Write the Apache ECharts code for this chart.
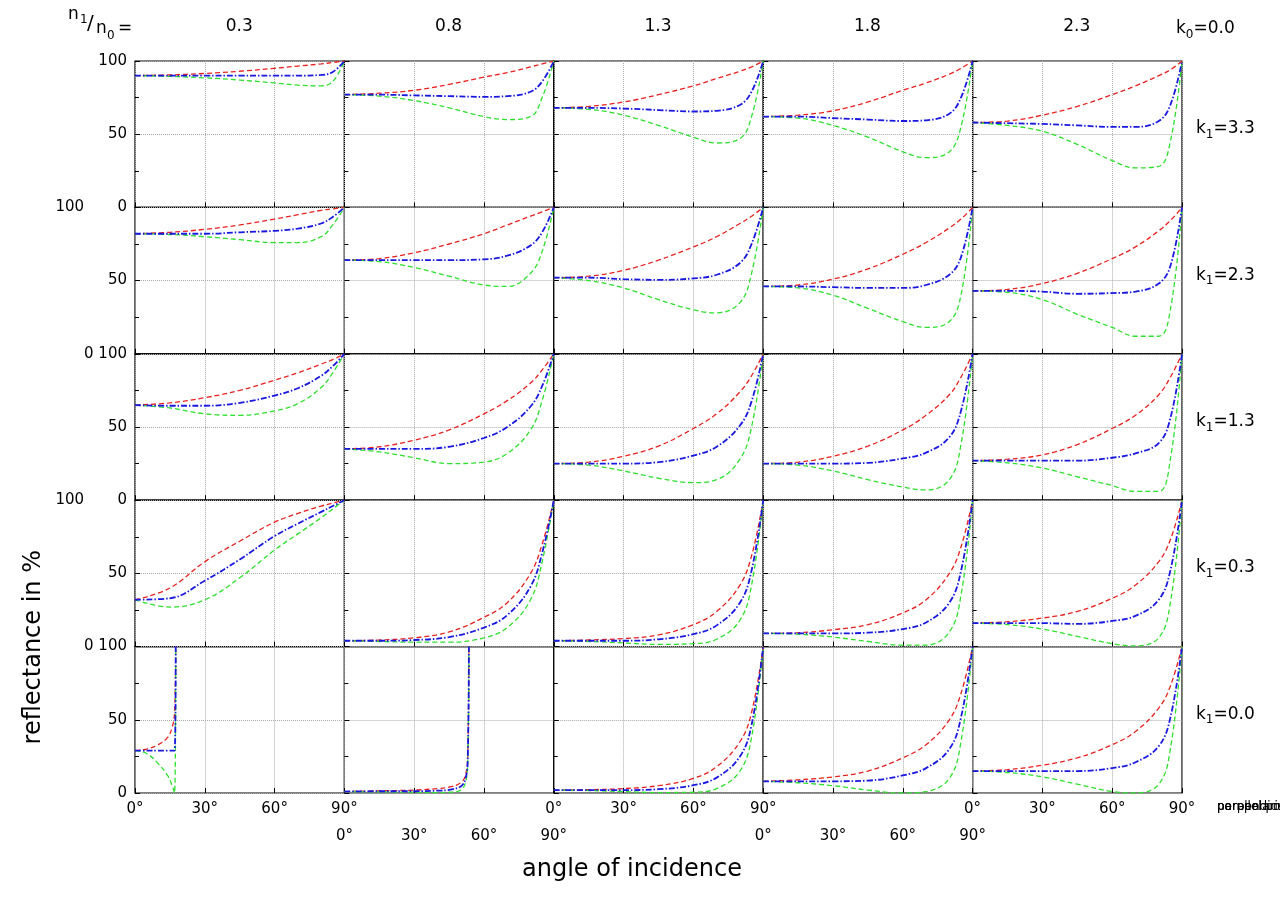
<!DOCTYPE html>
<html>
<head>
<meta charset="utf-8">
<script src="https://cdn.jsdelivr.net/npm/echarts@6/dist/echarts.min.js"></script>
<style>html,body{margin:0;padding:0;background:#fff}#c{width:1280px;height:902px}</style>
</head>
<body>
<div id="c"></div>
<script>
// 列：n1/n0，行：k1
const n_ratio = ['0.3', '0.8', '1.3', '1.8', '2.3'];
const k1_vals = ['3.3', '2.3', '1.3', '0.3', '0.0'];

// 默认入射角采样
const ANG = [0, 15, 30, 45, 60, 70, 80, 85, 90];
// 全反射面板的入射角
const ANG_TIR03 = [0, 5, 10, 14, 16, 17, 17.5];
const ANG_TIR08 = [0, 15, 30, 40, 45, 50, 52, 53, 53.5];

// k1 = 3.3
const perp_k33 = [[90,90.5,91.5,93,95,96.5,98,99,100],[77,78,80,84,89,92,96,98,100],[68,69,72,77,83,88,93,96,100],[62,63,66,72,80,85,91,95,100],[58,59,63,69,77,83,90,94,100]];
const para_k33 = [[90,89.5,88.5,87,85,83.5,83,86,100],[77,76,73,68,62,60,62,75,100],[68,67,63,56,48,44,47,62,100],[62,61,56,48,38,34,38,55,100],[58,56,52,43,32,27,28,45,100]];
const non_k33  = [[90,90,90,90,90,90,90.5,92.5,100],[77,77,76.5,76,75.5,76,79,86,100],[68,68,67.5,66.5,65.5,66,70,79,100],[62,62,61,60,59,59.5,64,75,100],[58,57.5,57,56,55,55,59,70,100]];
// k1 = 2.3
const perp_k23 = [[82,83,85,88,92,95,98,99,100],[64,65,69,75,82,88,94,97,100],[52,53,57,64,73,80,89,94,100],[46,47,51,58,68,76,86,92,100],[43,44,48,55,65,73,84,91,100]];
const para_k23 = [[82,81.5,80,78,76,76,80,88,100],[64,63,59,53,47,46,55,70,100],[52,50,45,37,30,28,35,55,100],[46,45,40,31,22,18,22,40,100],[43,42,37,27,18,12,12,30,100]];
const non_k23  = [[82,82,82,83,84,85.5,89,93.5,100],[64,64,64,64,64.5,67,74,83,100],[52,52,51,50.5,51.5,54,62,75,100],[46,46,45.5,45,45,47,54,66,100],[43,43,42.5,41,41.5,42.5,48,60,100]];
// k1 = 1.3
const perp_k13 = [[65,66.5,70,75,82,87,93,96,100],[35,36.5,41,48,59,68,80,89,100],[25,26,30,37,49,59,74,85,100],[25,26,30,37,48,58,72,84,100],[27,28,31,38,49,58,72,84,100]];
const para_k13 = [[65,63,59,58,61,66,77,87,100],[35,33,29,25,26,32,48,68,100],[25,24,20,15,12,14,28,50,100],[25,24,20,14,9,7,14,38,100],[27,25.5,22,16,10,6,6,28,100]];
const non_k13  = [[65,64.5,64.5,66.5,71.5,76.5,85,91.5,100],[35,35,35,36.5,42.5,50,64,78,100],[25,25,25,26,30.5,36.5,51,67.5,100],[25,25,25,25.5,28.5,32.5,43,61,100],[27,27,27,27,29,32,39,56,100]];
// k1 = 0.3
const perp_k03 = [[32,40,58,72,85,91,96,98,100],[4,4.5,6,10,20,30,50,70,100],[4,4.5,5.5,8,15,24,42,62,100],[9,9.5,11.5,15,23,32,50,68,100],[16,17,19.5,24,33,42,58,73,100]];
const para_k03 = [[32,27,32,47,66,77,88,94,100],[4,3.5,3,3,6,13,32,58,100],[4,3.5,2.5,1.5,2,5,18,42,100],[9,8.5,6.5,3.5,1,1,10,35,100],[16,15,12,7,2,0.5,6,30,100]];
const non_k03  = [[32,33,45,59.5,75.5,84,92,96,100],[4,4,4.5,6.5,13,21.5,41,64,100],[4,4,4,5,8.5,14.5,30,52,100],[9,9,9,9.5,12,16.5,30,51.5,100],[16,16,16,15.5,17.5,21,32,52,100]];
// k1 = 0.0（前两列为全反射）
const perp_k00 = [[29,30,33,38,45,55,100],[1,1.5,2,3,4,7,12,25,100],[2,2.3,3,5,10,18,35,55,100],[8,9,11,15,24,33,50,68,100],[15,16,19,24,33,42,58,73,100]];
const para_k00 = [[29,27,20,12,5,0,100],[1,0.8,0.5,0.3,0.5,2,7,20,100],[2,1.7,1,0.3,0.5,3,15,38,100],[8,7,5,2,0,1,10,35,100],[15,14,11,6,1,0,6,30,100]];
const non_k00  = [[29,29,29,29,29,29,100],[1,1.2,1.2,1.6,2.2,4.5,9.5,22.5,100],[2,2,2,2.6,5.3,10.5,25,46.5,100],[8,8,8,8.5,12,17,30,51.5,100],[15,15,15,15,17,21,32,51.5,100]];

const PERP = [perp_k33, perp_k23, perp_k13, perp_k03, perp_k00];
const PARA = [para_k33, para_k23, para_k13, para_k03, para_k00];
const NON  = [non_k33, non_k23, non_k13, non_k03, non_k00];

const X0 = 135, W = 209.4, Y0 = 61, H = 146.4;
const RED = '#e82020', GREEN = '#2ee02e', BLUE = '#1818e0';
const FONT = 'DejaVu Sans';

const angOf = (r, c) => (r === 4 && c === 0) ? ANG_TIR03 : (r === 4 && c === 1) ? ANG_TIR08 : ANG;
const pair = (a, v) => a.map((x, i) => [x, v[i]]);

const grids = [], xAxes = [], yAxes = [], series = [];
const topLabel = ['100', '100       0', '0 100', '100       0', '0 100'];

for (let r = 0; r < 5; r++) {
    for (let c = 0; c < 5; c++) {
        const i = r * 5 + c;
        grids.push({left: X0 + c * W, top: Y0 + r * H, width: W, height: H,
            show: true, borderColor: '#000', borderWidth: 1.2});
        xAxes.push({type: 'value', gridIndex: i, min: 0, max: 90, interval: 30,
            axisLine: {show: false},
            axisTick: {show: true, inside: true, length: 5, lineStyle: {color: '#000'}},
            splitLine: {show: true, lineStyle: {type: 'dotted', color: '#aaa'}},
            axisLabel: {show: r === 4, formatter: '{value}°', fontFamily: FONT, fontSize: 15,
                color: '#000', margin: c % 2 ? 36 : 9, showMaxLabel: true}});
        yAxes.push({type: 'value', gridIndex: i, min: 0, max: 100, interval: 50,
            axisLine: {show: false},
            axisTick: {show: true, inside: true, length: 5, lineStyle: {color: '#000'}},
            minorTick: {show: true, splitNumber: 2, length: 4, lineStyle: {color: '#000'}},
            splitLine: {show: true, lineStyle: {type: 'dotted', color: '#aaa'}},
            axisLabel: {show: c === 0, fontFamily: FONT, fontSize: 15, color: '#000', margin: 8,
                formatter: v => v === 100 ? topLabel[r] : v === 0 ? (r === 4 ? '0' : '') : String(v)}});
        const a = angOf(r, c);
        const base = {type: 'line', xAxisIndex: i, yAxisIndex: i, symbol: 'none', smooth: 0.4,
            clip: true, silent: true};
        series.push(Object.assign({}, base, {name: 'perpendicular polarised', data: pair(a, PERP[r][c]),
            lineStyle: {color: RED, width: 1.3, type: [5, 3]}, itemStyle: {color: RED}}));
        series.push(Object.assign({}, base, {name: 'parallel polarised', data: pair(a, PARA[r][c]),
            lineStyle: {color: GREEN, width: 1.3, type: [5, 3]}, itemStyle: {color: GREEN}}));
        series.push(Object.assign({}, base, {name: 'non-polarised', data: pair(a, NON[r][c]),
            lineStyle: {color: BLUE, width: 1.8, type: [6, 2, 1.5, 2]}, itemStyle: {color: BLUE}}));
    }
}

const texts = [];
n_ratio.forEach((n, c) => texts.push({type: 'text', left: X0 + c * W + W / 2 - 14, top: 18,
    style: {text: n, font: '17px "DejaVu Sans"', fill: '#000'}}));
k1_vals.forEach((k, r) => texts.push({type: 'text', left: 1196, top: Y0 + r * H + H / 2 - 14,
    style: {text: '{a|k}{s|1}{a|=' + k + '}', rich: {a: {font: '17px "DejaVu Sans"', fill: '#000'},
        s: {font: '12px "DejaVu Sans"', fill: '#000', verticalAlign: 'bottom', padding: [12, 0, 0, 0]}}}}));
texts.push({type: 'text', left: 1176, top: 20, style: {text: '{a|k}{s|0}{a|=0.0}',
    rich: {a: {font: '17px "DejaVu Sans"', fill: '#000'}, s: {font: '12px "DejaVu Sans"', fill: '#000', padding: [12, 0, 0, 0]}}}});
texts.push({type: 'text', left: 68, top: 6, style: {text: 'n', font: '17px "DejaVu Sans"', fill: '#000'}});
texts.push({type: 'text', left: 80, top: 14, style: {text: '1', font: '12px "DejaVu Sans"', fill: '#000'}});
texts.push({type: 'text', left: 87, top: 14, style: {text: '/', font: '20px "DejaVu Sans"', fill: '#000'}});
texts.push({type: 'text', left: 96, top: 20, style: {text: 'n', font: '17px "DejaVu Sans"', fill: '#000'}});
texts.push({type: 'text', left: 107, top: 30, style: {text: '0', font: '12px "DejaVu Sans"', fill: '#000'}});
texts.push({type: 'text', left: 118, top: 20, style: {text: '=', font: '17px "DejaVu Sans"', fill: '#000'}});
texts.push({type: 'text', left: 522, top: 858, style: {text: 'angle of incidence', font: '24px "DejaVu Sans"', fill: '#000'}});
texts.push({type: 'text', left: 22, top: 550, rotation: Math.PI / 2,
    style: {text: 'reflectance in %', font: '24px "DejaVu Sans"', fill: '#000'}});

const chart = echarts.init(document.getElementById('c'));
chart.setOption({
    animation: false,
    grid: grids, xAxis: xAxes, yAxis: yAxes, series,
    legend: {right: 5, top: 838, orient: 'vertical', itemGap: 3, itemWidth: 30, itemHeight: 10,
        icon: 'path://M0,5L30,5', borderColor: '#000', borderWidth: 1, padding: [3, 6], borderRadius: 0,
        textStyle: {fontFamily: FONT, fontSize: 12, color: '#000'},
        data: ['perpendicular polarised', 'parallel polarised', 'non-polarised']},
    graphic: texts
});
</script>
</body>
</html>
